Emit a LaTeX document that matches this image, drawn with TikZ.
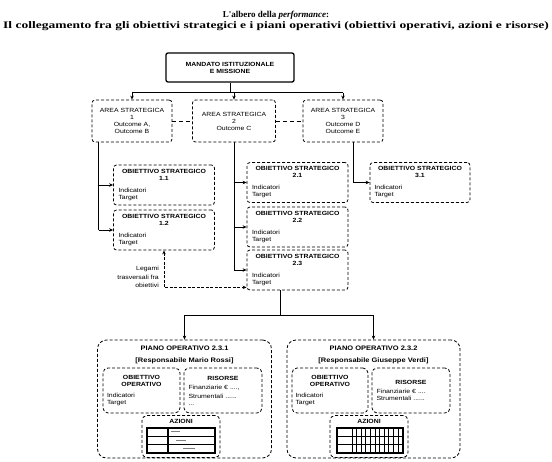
\documentclass[tikz,border=0pt]{standalone}
\usepackage{fontspec}
\setmainfont{Liberation Sans}
\newfontfamily\boxfont[FakeStretch=1.15]{Liberation Sans}
\newfontfamily\titlefont[FakeStretch=1.35]{Liberation Serif}
\newfontfamily\titlefontA{Liberation Serif}
\usetikzlibrary{arrows.meta,calc}
\tikzset{
  bf/.style={font=\boxfont\fontsize{6}{7}\selectfont},
  topbox/.style={draw, line width=1.3pt, rounded corners=2pt, inner sep=0pt, align=center, bf},
  dbox/.style={draw, densely dashed, line width=0.8pt, rounded corners=3pt, inner sep=0pt, bf},
  areabox/.style={dbox, minimum width=80pt, minimum height=42pt, align=center},
  objbox/.style={dbox, minimum width=101pt, minimum height=40pt, text width=91pt},
  planbox/.style={draw, densely dashed, line width=0.8pt, rounded corners=9pt, minimum width=174pt, minimum height=118pt, inner sep=0pt},
  inbox/.style={dbox, rounded corners=5pt, minimum width=77pt, minimum height=45pt, text width=69pt},
  azbox/.style={dbox, rounded corners=5pt, minimum width=78pt, minimum height=42pt},
  conn/.style={line width=1pt},
  arr/.style={line width=1pt, -{Stealth[length=4pt,width=3.5pt]}},
  darr/.style={line width=1pt, dashed, dash pattern=on 3pt off 1.5pt, {Stealth[length=4pt,width=3.5pt]}-{Stealth[length=4pt,width=3.5pt]}},
  ptitle/.style={align=center, inner sep=0pt, font=\boxfont\bfseries\fontsize{6.5}{12}\selectfont},
  tline/.style={line width=1.1pt},
}
\newcommand{\objtxt}[1]{{\centering\textbf{OBIETTIVO STRATEGICO}\\\textbf{#1}\par}\vspace{3.5pt}\raggedright\fontsize{6}{8.5}\selectfont Indicatori\\Target}
\begin{document}
\begin{tikzpicture}[x=1pt,y=-1pt]
\useasboundingbox (0,0) rectangle (552,461);
% title
\node[inner sep=0pt, font=\titlefontA\bfseries\fontsize{9}{10}\selectfont] (title1) at (276,15)
 {L'albero della \textit{performance}:};
\node[inner sep=0pt, font=\titlefont\bfseries\fontsize{10}{12}\selectfont] (title2) at (276,26)
 {Il collegamento fra gli obiettivi strategici e i piani operativi (obiettivi operativi, azioni e risorse)};
% top
\node[topbox, minimum width=128pt, minimum height=29pt] (top) at (230,67.5) {\textbf{MANDATO ISTITUZIONALE}\\\textbf{E MISSIONE}};
% areas
\node[areabox] (a1) at (132,121) {AREA STRATEGICA\\1\\Outcome A,\\Outcome B};
\node[areabox, minimum width=83pt] (a2) at (234,121) {AREA STRATEGICA\\2\\Outcome C};
\node[areabox] (a3) at (343,121) {AREA STRATEGICA\\3\\Outcome D\\Outcome E};
\draw[conn, dashed, dash pattern=on 4pt off 3pt] (a1.east) -- (a2.west);
\draw[conn, dashed, dash pattern=on 4pt off 3pt] (a2.east) -- (a3.west);
% top connectors
\coordinate (j0) at ($(top.south)+(0,10)$);
\draw[conn] (top.south) -- (j0);
\draw[conn] (a1.north |- j0) -- (a3.north |- j0);
\draw[arr] (a1.north |- j0) -- (a1.north);
\draw[arr] (a2.north |- j0) -- (a2.north);
\draw[arr] (a3.north |- j0) -- (a3.north);
% objectives
\node[objbox] (o11) at (164,185) {\objtxt{1.1}};
\node[objbox] (o12) at (164,230) {\objtxt{1.2}};
\node[objbox] (o21) at (297.5,182.5) {\objtxt{2.1}};
\node[objbox] (o22) at (297.5,227) {\objtxt{2.2}};
\node[objbox] (o23) at (297.5,270) {\objtxt{2.3}};
\node[objbox, minimum width=100pt] (o31) at (420,182.5) {\objtxt{3.1}};
% area 1 links
\coordinate (a1d) at ($(a1.south west)+(7,0)$);
\draw[conn] (a1d) -- (a1d |- o12.west);
\draw[arr] (a1d |- o11.west) -- (o11.west);
\draw[arr] (a1d |- o12.west) -- (o12.west);
% area 2 links
\draw[conn] (a2.south) -- (a2.south |- o23.west);
\draw[arr] (a2.south |- o21.west) -- (o21.west);
\draw[arr] (a2.south |- o22.west) -- (o22.west);
\draw[arr] (a2.south |- o23.west) -- (o23.west);
% area 3 link
\coordinate (a3d) at ($(a3.south)+(10,0)$);
\draw[arr] (a3d) |- (o31.west);
% transversal link
\coordinate (tr) at ($(o23.south west)+(0,-3)$);
\draw[darr] (o12.south) |- (tr);
\node[align=right, anchor=east, inner sep=0pt, font=\boxfont\fontsize{6}{8.5}\selectfont] (lg) at (159,277) {Legami\\trasversali fra\\obiettivi};
% plans
\node[planbox] (p1) at (184.5,399) {};
\node[planbox, minimum width=173pt] (p2) at (373.5,399) {};
\coordinate (j2) at ($(o23.south)+(-17,25)$);
\draw[conn] ($(o23.south)+(-17,0)$) -- (j2);
\draw[conn] (p1.north |- j2) -- (p2.north |- j2);
\draw[arr] (p1.north |- j2) -- (p1.north);
\draw[arr] (p2.north |- j2) -- (p2.north);
\node[ptitle, anchor=north] (p1t) at ($(p1.north)+(0,6)$) {PIANO OPERATIVO 2.3.1\\{[Responsabile Mario Rossi]}};
\node[ptitle, anchor=north] (p2t) at ($(p2.north)+(0,6)$) {PIANO OPERATIVO 2.3.2\\{[Responsabile Giuseppe Verdi]}};
% plan 1 inner
\node[inbox] (oo1) at (141.5,390.5) {{\centering\textbf{OBIETTIVO}\\\textbf{OPERATIVO}\par}\vspace{2pt}\raggedright\fontsize{6}{8.5}\selectfont Indicatori\\Target};
\node[inbox, minimum width=78pt] (r1) at (223,390.5) {{\centering\textbf{RISORSE}\par}\vspace{1pt}\raggedright\fontsize{6}{8.5}\selectfont Finanziarie € ....,\\Strumentali ......\\...};
\node[azbox] (az1) at (181,436.5) {};
\node[anchor=north, inner sep=0pt, bf] (az1t) at ($(az1.north)+(0,4)$) {\textbf{AZIONI}};
% plan 2 inner
\node[inbox, minimum width=76pt] (oo2) at (330,390.5) {{\centering\textbf{OBIETTIVO}\\\textbf{OPERATIVO}\par}\vspace{2pt}\raggedright\fontsize{6}{8.5}\selectfont Indicatori\\Target};
\node[inbox, minimum width=78pt] (r2) at (411,390.5) {{\centering\textbf{RISORSE}\par}\vspace{1pt}\raggedright\fontsize{6}{8.5}\selectfont Finanziarie € ....\\Strumentali ......};
\node[azbox] (az2) at (369,436.5) {};
\node[anchor=north, inner sep=0pt, bf] (az2t) at ($(az2.north)+(0,4)$) {\textbf{AZIONI}};
% table 1
\draw[tline] (147,428) rectangle (215,453);
\foreach \y in {436.3,444.6} \draw[tline] (147,\y) -- (215,\y);
\draw[tline] (168,428) -- (168,453);
\draw[line width=0.4pt, gray] (171,431) -- (180,431) (176,440) -- (186,440) (183,448) -- (195,448);
% table 2
\draw[tline] (337,428) rectangle (403,453);
\foreach \y in {436.3,444.6} \draw[tline] (337,\y) -- (403,\y);
\foreach \x in {352,356.6,...,400} \draw[line width=0.9pt] (\x,428) -- (\x,453);
\end{tikzpicture}
\end{document}
